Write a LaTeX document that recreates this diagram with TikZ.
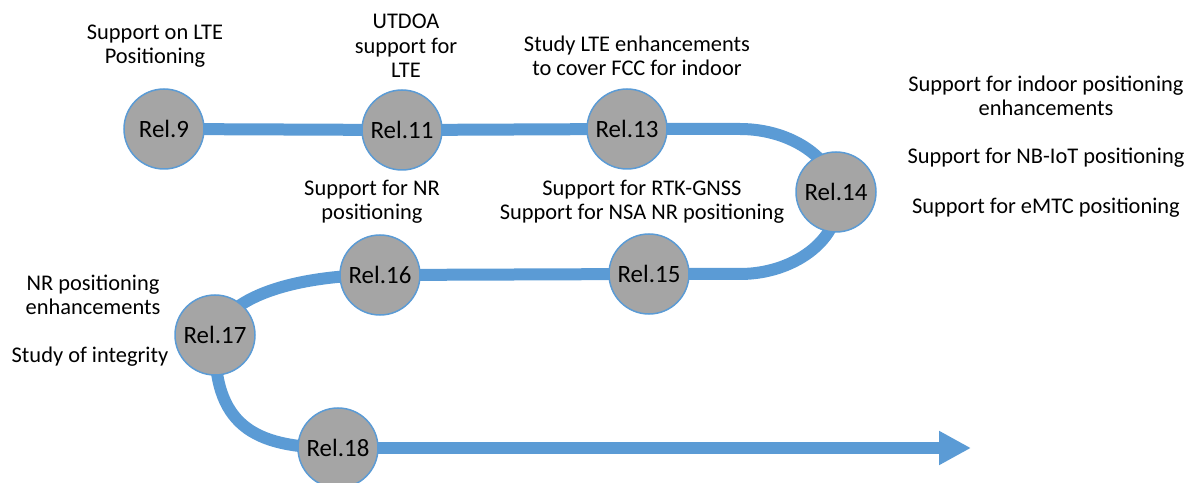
\documentclass[tikz,border=0pt]{standalone}
\usepackage{fontspec}
\setmainfont{Carlito}
\usetikzlibrary{arrows.meta,backgrounds}
\definecolor{trackblue}{HTML}{5B9BD5}
\definecolor{relgray}{HTML}{A5A5A5}
\tikzset{
        >={Triangle[length=32bp,width=32bp]},
        rel/.style = {circle, minimum size=80bp, inner sep=0pt, fill=relgray, draw=trackblue, line width=1.5bp, font=\fontsize{25}{28}\selectfont},
        track/.style = {line width=12bp, draw=trackblue},
        note/.style = {align=center, font=\fontsize{22.5}{24.5}\selectfont}
}
\begin{document}
\begin{tikzpicture}[x=1bp,y=-1bp]

        \useasboundingbox (0,0) rectangle (1198,483);

        % Releases
        \node[rel] (r9) at (164,129) {Rel.9};
        \node[rel] (r11) at (402,130) {Rel.11};
        \node[rel] (r13) at (627,129) {Rel.13};
        \node[rel] (r14) at (836,192) {Rel.14};
        \node[rel] (r15) at (649,274) {Rel.15};
        \node[rel] (r16) at (380,275) {Rel.16};
        \node[rel] (r17) at (215,335) {Rel.17};
        \node[rel] (r18) at (338,448) {Rel.18};
        \coordinate (end) at (971,448);

        % Track
        \begin{scope}[on background layer]
        \draw[track] (r9.center) -- (r11.center) -- (r13.center) -- (740,129)
                .. controls (793,129) and (838,161) .. (838,201)
                .. controls (838,241) and (793,274) .. (740,274)
                -- (r15.center) -- (r16.center)
                .. controls (290,275) and (215,300) .. (215,345)
                .. controls (215,430) and (260,448) .. (r18.center);
        \draw[track,->] (r18.center) -- (end);
        \end{scope}

        % Labels
        \node[note] (t9) at (155,46) {Support on LTE\\Positioning};
        \node[note] (t11) at (406,46) {UTDOA\\support for\\LTE};
        \node[note] (t13) at (637,56) {Study LTE enhancements\\to cover FCC for indoor};
        \node[note] (t14a) at (1046,96) {Support for indoor positioning\\enhancements};
        \node[note] (t14b) at (1046,158) {Support for NB-IoT positioning};
        \node[note] (t14c) at (1046,208) {Support for eMTC positioning};
        \node[note] (t16) at (372,202) {Support for NR\\positioning};
        \node[note] (t15) at (642,202) {Support for RTK-GNSS\\Support for NSA NR positioning};
        \node[note] (t17a) at (93,295) {NR positioning\\enhancements};
        \node[note] (t17b) at (90,357) {Study of integrity};

\end{tikzpicture}
\end{document}
